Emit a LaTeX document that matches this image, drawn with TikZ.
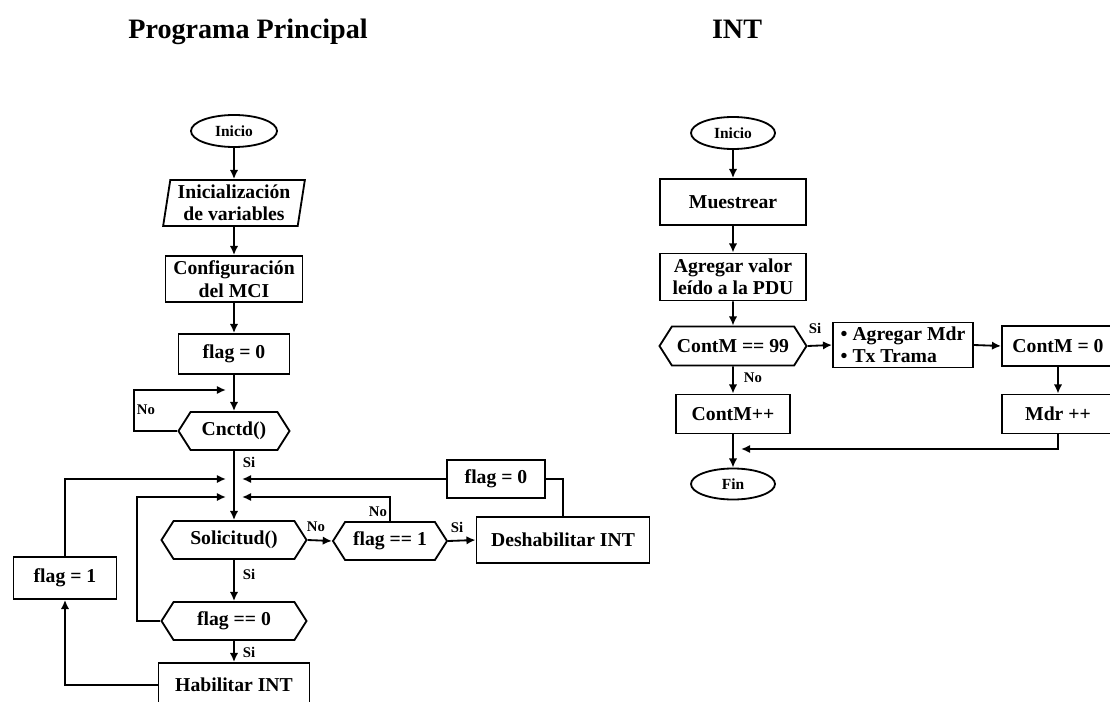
\documentclass[tikz,border=0pt]{standalone}
\usepackage{fontspec}
\setmainfont{Liberation Serif}
\usepackage{tikz}
\usetikzlibrary{arrows.meta}
\usetikzlibrary{shapes.geometric,shapes.symbols}

\begin{document}
\begin{tikzpicture}[x=0.025cm, y=-0.025cm]
    \tikzstyle{base}=[draw, line width=1.3pt, inner sep=2pt, align=center,
            font=\bfseries\fontsize{14}{16}\selectfont]
    \tikzstyle{proc}=[base, rectangle]
    \tikzstyle{term}=[base, ellipse, inner sep=0pt, font=\bfseries\fontsize{11}{12}\selectfont]
    \tikzstyle{iodata}=[base, trapezium, trapezium left angle=81,
            trapezium right angle=99, trapezium stretches=true]
    \tikzstyle{decide}=[base, signal, signal to=east and west,
            signal pointer angle=115]
    \tikzstyle{lbl}=[font=\bfseries\fontsize{10.5}{12}\selectfont, inner sep=0pt]
    \tikzstyle{title}=[anchor=base, font=\bfseries\fontsize{20}{24}\selectfont]
    \tikzstyle{arr}=[line width=1.3pt, -{Latex[length=6.5pt,width=6pt]}]
    \tikzstyle{mergearr}=[arr, shorten >=5.7pt]

    \useasboundingbox (0,0) rectangle (1110,702);

    % titulos
    \node[title] (tprin) at (248,39) {Programa Principal};
    \node[title] (tint) at (737,39) {INT};

    % programa principal
    \node[term, minimum width=2.15cm, minimum height=0.8cm] (ini) at (234,131) {Inicio};
    \node[iodata, minimum width=3.575cm, minimum height=1.15cm] (inivar) at (234,203)
        {Inicialización\\de variables};
    \node[proc, minimum width=3.425cm, minimum height=1.15cm] (conf) at (234,279)
        {Configuración\\del MCI};
    \node[proc, minimum width=2.775cm, minimum height=1cm] (flagA) at (234,354) {flag = 0};
    \node[decide, minimum width=2.775cm, minimum height=0.95cm] (cnctd) at (234,431) {Cnctd()};
    \node[decide, minimum width=3.625cm, minimum height=0.95cm] (solic) at (234,540) {Solicitud()};
    \node[decide, minimum width=2.85cm, minimum height=0.95cm] (fequno) at (390,541) {flag == 1};
    \node[proc, minimum width=4.325cm, minimum height=1.15cm] (deshab) at (563,540)
        {Deshabilitar INT};
    \node[proc, minimum width=2.45cm, minimum height=0.95cm] (flagB) at (496,479) {flag = 0};
    \node[decide, minimum width=3.625cm, minimum height=0.95cm] (fcero) at (234,621) {flag == 0};
    \node[proc, minimum width=3.775cm, minimum height=1.1cm] (habil) at (234,685) {Habilitar INT};
    \node[proc, minimum width=2.575cm, minimum height=1.05cm] (flagC) at (65,578) {flag = 1};

    \coordinate (j0) at (234,390);
    \coordinate (j1) at (234,479);
    \coordinate (j2) at (234,497);

    \draw[arr] (ini) -- (inivar);
    \draw[arr] (inivar) -- (conf);
    \draw[arr] (conf) -- (flagA);
    \draw[arr] (flagA) -- (cnctd);
    \draw[mergearr] (cnctd.west) -- ++(-43,0) |- (j0);
    \draw[arr] (cnctd) -- (solic);
    \draw[mergearr] (flagC.north) |- (j1);
    \draw[mergearr] (fcero.west) -- ++(-23,0) |- (j2);
    \draw[mergearr] (flagB.west) -- (j1);
    \draw[mergearr] (fequno.north) |- (j2);
    \draw[line width=1.3pt] (deshab.north) |- (flagB.east);
    \draw[arr] (solic.east) -- (fequno.west);
    \draw[arr] (fequno.east) -- (deshab.west);
    \draw[arr] (solic) -- (fcero);
    \draw[arr] (fcero) -- (habil);
    \draw[arr] (habil.west) -| (flagC.south);

    \node[lbl] (lno1) at (146,410) {No};
    \node[lbl] (lsi1) at (249,462) {Si};
    \node[lbl] (lno2) at (316,527) {No};
    \node[lbl] (lno3) at (378,512) {No};
    \node[lbl] (lsi2) at (457,527) {Si};
    \node[lbl] (lsi3) at (249,574) {Si};
    \node[lbl] (lsi4) at (249,652) {Si};

    % INT
    \node[term, minimum width=2.1cm, minimum height=0.8cm] (iniB) at (733,133) {Inicio};
    \node[proc, minimum width=3.65cm, minimum height=1.15cm] (muest) at (733,202) {Muestrear};
    \node[proc, minimum width=3.65cm, minimum height=1.175cm] (agreg) at (733,277)
        {Agregar valor\\leído a la PDU};
    \node[decide, minimum width=3.675cm, minimum height=0.975cm] (cmnn) at (733,346)
        {ContM == 99};
    \node[proc, minimum width=3.5cm, minimum height=1.125cm, align=left] (trama) at (903,345)
        {• Agregar Mdr\\• Tx Trama};
    \node[proc, minimum width=2.8cm, minimum height=1cm] (cmcero) at (1058,346) {ContM = 0};
    \node[proc, minimum width=2.8cm, minimum height=0.975cm] (mdr) at (1058,414) {Mdr ++};
    \node[proc, minimum width=2.85cm, minimum height=0.975cm] (cmmas) at (733,414) {ContM++};
    \node[term, minimum width=2.1cm, minimum height=0.775cm] (fin) at (733,484) {Fin};

    \coordinate (jf) at (733,449);

    \draw[arr] (iniB) -- (muest);
    \draw[arr] (muest) -- (agreg);
    \draw[arr] (agreg) -- (cmnn);
    \draw[arr] (cmnn.east) -- (trama.west);
    \draw[arr] (trama.east) -- (cmcero.west);
    \draw[arr] (cmcero) -- (mdr);
    \draw[arr] (cmnn) -- (cmmas);
    \draw[arr] (cmmas) -- (fin);
    \draw[mergearr] (mdr.south) |- (jf);

    \node[lbl] (lsi5) at (815,328) {Si};
    \node[lbl] (lno5) at (753,378) {No};

\end{tikzpicture}
\end{document}
